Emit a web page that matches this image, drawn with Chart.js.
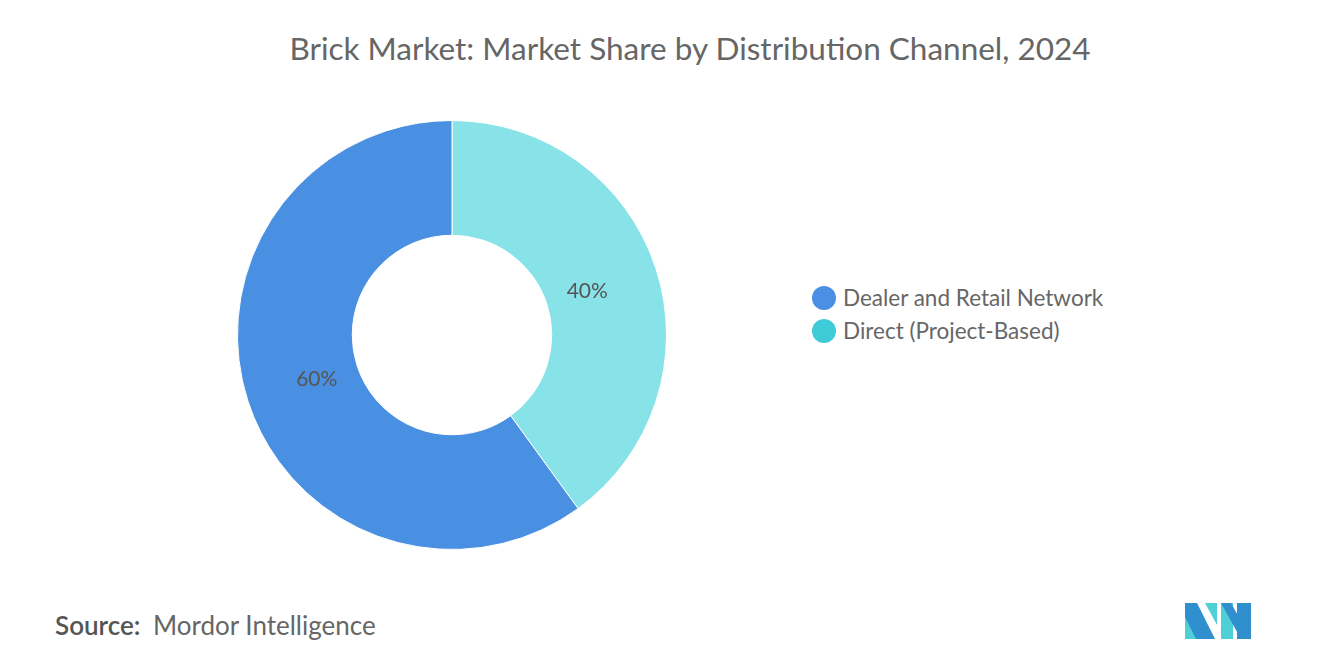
<!DOCTYPE html>
<html>
<head>
<meta charset="utf-8">
<script src="https://cdn.jsdelivr.net/npm/chart.js@4"></script>
<style>
  body { margin: 0; width: 1320px; height: 665px; background: #fff; font-family: Lato, "Open Sans", sans-serif; position: relative; overflow: hidden; }
  #title { position: absolute; top: 29px; left: 30px; width: 1320px; text-align: center; font-size: 31.5px; color: #666; }
  #wrap { position: absolute; left: 232px; top: 115px; width: 440px; height: 440px; }
  #legend { position: absolute; left: 812px; top: 281px; font-size: 22.5px; color: #666; }
  #legend div { display: flex; align-items: center; height: 33px; }
  #legend span.dot { width: 24px; height: 24px; border-radius: 50%; margin-right: 7px; display: inline-block; }
  #source { position: absolute; left: 55px; top: 609px; font-size: 26px; color: #666; }
  #source b { color: #555; font-weight: 600; margin-right: 6px; }
  #logo { position: absolute; left: 1185px; top: 603px; }
</style>
</head>
<body>
<div id="title">Brick Market: Market Share by Distribution Channel, 2024</div>
<div id="wrap"><canvas id="chart"></canvas></div>
<div id="legend"></div>
<div id="source"><b>Source:</b> Mordor Intelligence</div>
<svg id="logo" width="66" height="36" viewBox="0 0 66 36">
  <polygon points="0,0 12,0 30,36 0,36" fill="#2f8fcf"/>
  <polygon points="0,14 11,36 0,36" fill="#4fd0d6"/>
  <polygon points="20,0 32,0 32,22" fill="#4fd0d6"/>
  <polygon points="36,0 48,0 48,36 36,36" fill="#4fd0d6"/>
  <polygon points="52,0 66,0 66,36 52,36" fill="#2f8fcf"/>
  <polygon points="36,0 46,0 66,36 56,36" fill="#2f8fcf"/>
</svg>
<script>
const categories = ['Dealer and Retail Network', 'Direct (Project-Based)'];
const shares = [60, 40];
const sliceColors = ['#4a90e2', '#88e3e8'];
const legendColors = ['#4a8fe3', '#3fcbd8'];

const legendEl = document.getElementById('legend');
categories.forEach((name, i) => {
    const row = document.createElement('div');
    row.innerHTML = `<span class="dot" style="background:${legendColors[i]}"></span>${name}`;
    legendEl.appendChild(row);
});

// Direct slice starts at 12 o'clock, so feed the data in reverse order.
const sliceData = shares.slice().reverse();

const sliceLabelsPlugin = {
    id: 'sliceLabels',
    afterDatasetsDraw(chart) {
        const ctx = chart.ctx;
        const meta = chart.getDatasetMeta(0);
        meta.data.forEach((arc, index) => {
            const mid = (arc.startAngle + arc.endAngle) / 2;
            const r = arc.innerRadius + (arc.outerRadius - arc.innerRadius) * 0.37;
            ctx.save();
            ctx.font = '21px Lato, sans-serif';
            ctx.fillStyle = '#555';
            ctx.textAlign = 'center';
            ctx.textBaseline = 'middle';
            ctx.fillText(sliceData[index] + '%', arc.x + Math.cos(mid) * r, arc.y + Math.sin(mid) * r);
            ctx.restore();
        });
    }
};

new Chart(document.getElementById('chart'), {
    type: 'doughnut',
    plugins: [sliceLabelsPlugin],
    data: {
        labels: categories.slice().reverse(),
        datasets: [{
            data: sliceData,
            backgroundColor: sliceColors.slice().reverse(),
            borderColor: '#fff',
            borderWidth: 1
        }]
    },
    options: {
        responsive: true,
        maintainAspectRatio: false,
        animation: false,
        cutout: '46.5%',
        layout: { padding: 5 },
        plugins: {
            legend: { display: false },
            tooltip: { enabled: false }
        }
    }
});
</script>
</body>
</html>
